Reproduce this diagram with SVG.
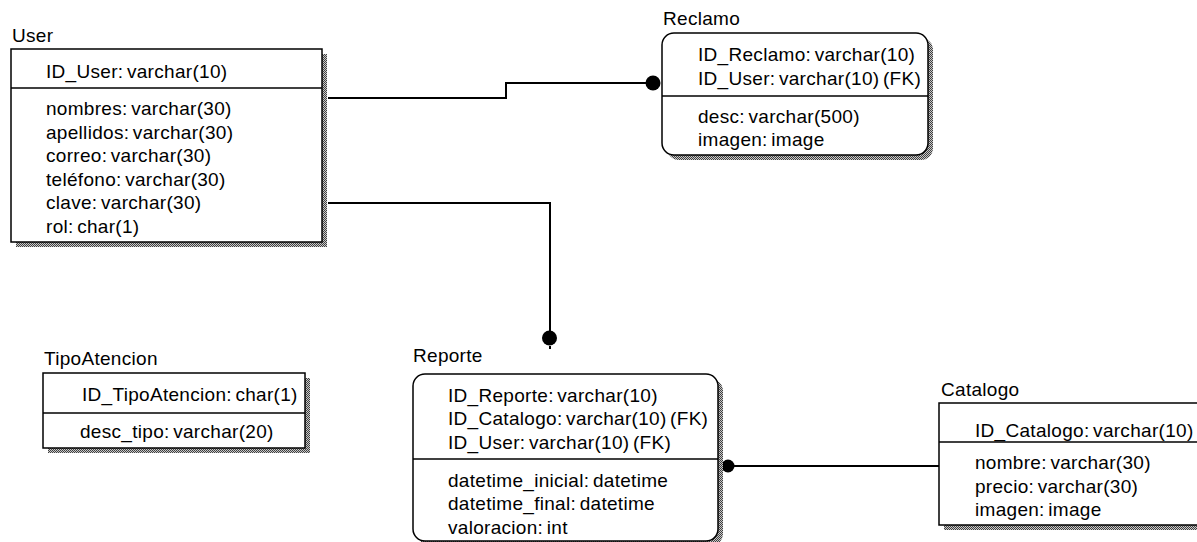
<svg xmlns="http://www.w3.org/2000/svg" width="1197" height="542" viewBox="0 0 1197 542">
<defs>
<pattern id="dither" width="2" height="2" patternUnits="userSpaceOnUse">
<rect width="2" height="2" fill="#c8c8c8"/>
<rect x="0" y="0" width="1" height="1" fill="#404040"/>
<rect x="1" y="1" width="1" height="1" fill="#404040"/>
</pattern>
<clipPath id="clipTipo"><rect x="43" y="373" width="261" height="75"/></clipPath>
</defs>
<style>
text{font-family:"Liberation Sans",Arial,sans-serif;font-size:19px;fill:#000;word-spacing:-2px;letter-spacing:0.3px}
.box{fill:#fff;stroke:#000;stroke-width:1.5}
.shadow{fill:url(#dither);stroke:none}
.div{stroke:#000;stroke-width:1.5}
.conn{fill:none;stroke:#000;stroke-width:2}
.dot{fill:#000}
</style>
<g id="connectors">
<polyline class="conn" points="328,98 506,98 506,83 653,83"/>
<circle class="dot" cx="653" cy="83" r="7.5"/>
<polyline class="conn" points="328,203 550,203 550,338"/>
<circle class="dot" cx="549.5" cy="338" r="7.5"/>
<line class="conn" x1="550" y1="346" x2="550" y2="349" stroke-width="1.5"/>
<line class="conn" x1="728" y1="466" x2="939" y2="466"/>
<circle class="dot" cx="728" cy="466" r="6.5"/>
</g>
<g id="User">
<text x="12" y="42">User</text>
<rect class="shadow" x="16" y="54" width="311" height="193"/>
<rect class="box" x="11" y="49" width="311" height="193"/>
<line class="div" x1="11" y1="88" x2="322" y2="88"/>
<text x="46" y="78">ID_User: varchar(10)</text>
<text x="46" y="115">nombres: varchar(30)</text>
<text x="46" y="138.6">apellidos: varchar(30)</text>
<text x="46" y="162.2">correo: varchar(30)</text>
<text x="46" y="185.8">teléfono: varchar(30)</text>
<text x="46" y="209.4">clave: varchar(30)</text>
<text x="46" y="233">rol: char(1)</text>
</g>
<g id="Reclamo">
<text x="663" y="25">Reclamo</text>
<rect class="shadow" x="667" y="38" width="266" height="122" rx="12"/>
<rect class="box" x="662" y="33" width="266" height="122" rx="12"/>
<line class="div" x1="662" y1="96" x2="928" y2="96"/>
<text x="698" y="61">ID_Reclamo: varchar(10)</text>
<text x="698" y="84.5">ID_User: varchar(10) (FK)</text>
<text x="698" y="122.5">desc: varchar(500)</text>
<text x="698" y="146">imagen: image</text>
</g>
<g id="TipoAtencion">
<text x="44" y="365">TipoAtencion</text>
<rect class="shadow" x="48" y="378" width="262" height="75"/>
<rect class="box" x="43" y="373" width="262" height="75"/>
<line class="div" x1="43" y1="413" x2="305" y2="413"/>
<text x="82" y="401" clip-path="url(#clipTipo)">ID_TipoAtencion: char(1)</text>
<text x="80" y="438">desc_tipo: varchar(20)</text>
</g>
<g id="Reporte">
<text x="413" y="362">Reporte</text>
<rect class="shadow" x="418" y="379" width="305" height="167" rx="12"/>
<rect class="box" x="413" y="374" width="305" height="167" rx="12"/>
<line class="div" x1="413" y1="459" x2="718" y2="459"/>
<text x="448" y="401.5">ID_Reporte: varchar(10)</text>
<text x="448" y="425">ID_Catalogo: varchar(10) (FK)</text>
<text x="448" y="448.5">ID_User: varchar(10) (FK)</text>
<text x="448" y="486.5">datetime_inicial: datetime</text>
<text x="448" y="510">datetime_final: datetime</text>
<text x="448" y="533.5">valoracion: int</text>
</g>
<g id="Catalogo">
<text x="941" y="396">Catalogo</text>
<rect class="shadow" x="944" y="408" width="270" height="122"/>
<rect class="box" x="939" y="403" width="270" height="122"/>
<line class="div" x1="939" y1="442" x2="1209" y2="442"/>
<text x="975" y="436.5">ID_Catalogo: varchar(10)</text>
<text x="975" y="469">nombre: varchar(30)</text>
<text x="975" y="492.5">precio: varchar(30)</text>
<text x="975" y="516">imagen: image</text>
</g>
</svg>
